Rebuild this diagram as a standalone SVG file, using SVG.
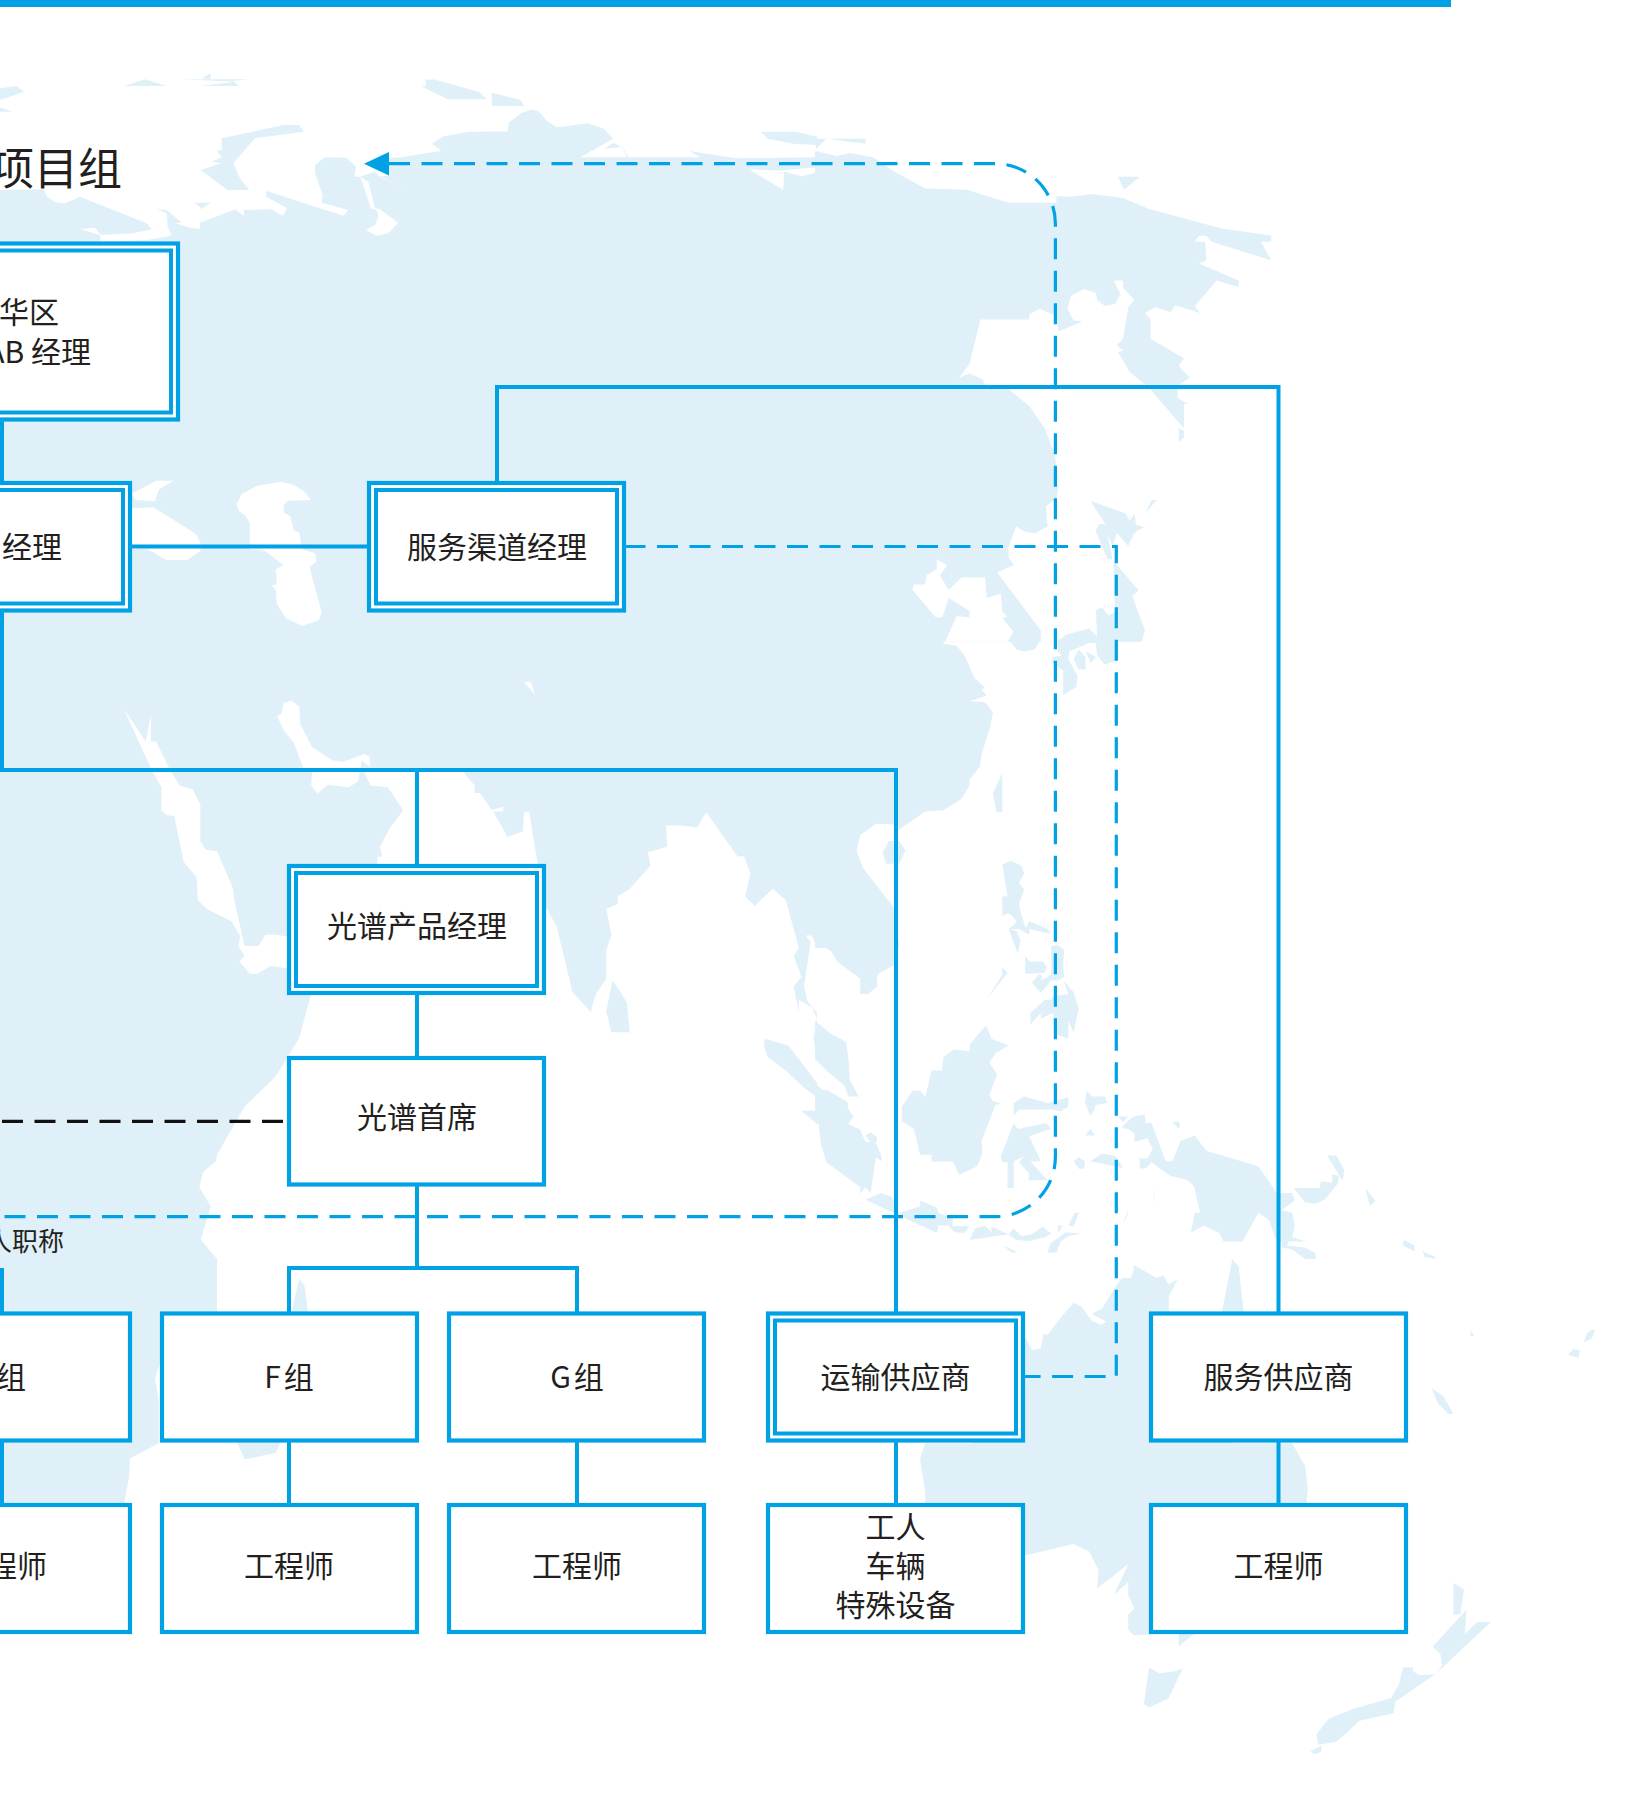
<svg xmlns="http://www.w3.org/2000/svg" width="1632" height="1796" viewBox="0 0 1632 1796">
<style>
.l{fill:#e0f0f9}
.w{fill:#fff}
.n{fill:#fff;stroke:#00a2e5;stroke-width:4.2}
.i{fill:none;stroke:#00a2e5;stroke-width:4}
.c{fill:none;stroke:#00a2e5;stroke-width:4}
.d{fill:none;stroke:#00a2e5;stroke-width:3.2;stroke-dasharray:21 11.5}
.k{fill:none;stroke:#111;stroke-width:3.2;stroke-dasharray:21 11.5}
text{font-family:"Noto Sans CJK SC","Noto Sans",sans-serif;font-size:30px;font-weight:400;fill:#231f20;text-anchor:middle}
.e{text-anchor:end}
.t{word-spacing:-4px}
</style>
<rect width="1632" height="1796" fill="#fff"/>
<g id="map">
<rect class="l" x="0" y="308" width="818" height="334"/>
<g transform="translate(0,70) scale(.33333)">
<polygon class="l" points="0,55 50,48 72,65 0,90"/>
<polygon class="l" points="0,112 38,125 0,125"/>
<polygon class="l" points="372,48 435,28 500,48"/>
<polygon class="l" points="605,25 632,10 632,28"/>
<polygon class="l" points="550,28 750,28 700,32 715,48 600,48 705,35"/>
<polygon class="l" points="665,205 850,165 897,165 912,185 765,205 700,280 720,325 748,360 682,360 602,300 665,280 635,275 665,262 650,243 665,240"/>
<polygon class="l" points="0,360 130,358 140,378 165,397 195,400 240,380 440,460 455,478 515,497 503,470 500,430 470,418 500,420 545,458 522,458 570,473 600,477 600,458 705,418 732,437 732,420 815,418 848,437 862,415 798,380 798,362 1030,437 1045,420 965,398 968,375 945,310 945,285 975,262 1040,263 1068,290 1063,320 1080,320 1125,305 1140,318 1165,318 1165,265 1209,261 1262,252 1262,722 0,722"/>
<polygon class="l" points="585,398 632,398 605,417"/>
<polygon class="w" points="240,477 285,473 303,495 400,490 455,478 515,497 440,510 303,515 300,495"/>
<polygon class="w" points="1080,320 1105,335 1125,415 1140,418 1195,458 1165,490 1130,497 1098,480 1125,465 1135,440 1130,420 1112,415 1090,345"/>
<polygon class="w" points="1120,307 1210,358 1140,320"/>
</g>
<g transform="scale(.5204,.40816)">
<polygon class="l" points="818,195 835,195 920,225 935,243 860,243 810,212 818,212"/>
<polygon class="l" points="945,227 1000,245 1007,260 945,260"/>
<polygon class="l" points="1462,323 1530,323 1570,335 1570,355 1525,352 1475,340"/>
<polygon class="l" points="805,378 848,370 830,352 850,335 900,323 975,322 978,300 1000,278 1020,268 1035,272 1050,295 1070,312 1130,302 1160,315 1178,340 1115,385 1205,385 1195,360 1160,365 1180,350 1198,365 1208,385 1345,385 1325,370 1415,388 1570,385 1570,762 805,762"/>
<polygon class="w" points="1440,415 1505,465 1507,420 1540,432 1570,422 1570,410 1500,418"/>
<polygon class="w" points="253,1210 300,1178 333,1178 305,1200 298,1228 260,1225"/>
<polygon class="w" points="253,1245 295,1243 360,1295 378,1310 385,1330 385,1350 360,1372 320,1372 283,1345 253,1345"/>
<polygon class="w" points="455,1235 465,1210 495,1190 540,1180 565,1188 585,1205 597,1225 553,1227 545,1238 545,1255 558,1265 565,1300 575,1305 580,1345 590,1350 605,1355 608,1375 595,1390 598,1405 618,1500 612,1520 580,1533 550,1515 532,1480 530,1445 522,1435 532,1430 530,1395 545,1385 510,1350 480,1345 480,1280 470,1262 458,1250"/>
</g>
<g transform="translate(816,0) scale(.5204,.40816)">
<polygon class="l" points="0,340 95,340 95,352 20,340 0,365"/>
<polygon class="l" points="580,433 622,433 592,465"/>
<polygon class="l" points="-2,370 0,370 40,382 65,375 110,385 150,420 210,462 290,465 370,497 462,497 462,480 490,482 530,475 590,485 640,512 780,560 875,577 875,592 855,592 875,638 760,592 750,578 735,578 728,592 748,592 750,638 735,645 812,687 812,703 770,687 728,750 738,767 690,748 682,765 652,752 632,767 643,782 643,830 707,878 697,897 718,925 695,945 695,975 715,990 707,990 707,1050 640,950 603,912 580,862 590,860 578,845 590,830 600,752 612,735 590,705 590,687 572,687 585,720 575,745 555,750 540,735 538,718 515,708 490,725 483,755 495,785 512,787 465,813 465,800 455,770 430,757 410,770 410,783 316,783 295,892 275,925 295,915 320,930 328,950 365,948 410,995 440,1050 460,1120 465,1200 462,1222 442,1240 445,1290 420,1307 400,1302 385,1290 370,1340 370,1365 380,1385 348,1402 432,1545 432,1572 -2,1572"/>
<polygon class="l" points="697,1050 707,1055 707,1072 697,1085"/>
<polygon class="l" points="527,1227 595,1258 603,1275 612,1258 615,1285 630,1292 612,1305 600,1338 578,1305 570,1338 560,1310 570,1370 560,1370 537,1300 545,1283 557,1285"/>
<polygon class="l" points="632,1258 645,1225 655,1225"/>
<polygon class="l" points="572,1375 620,1447 608,1460 632,1545 626,1572 465,1572 480,1555 525,1540 540,1558 538,1495 550,1488 562,1508 575,1498 572,1430"/>
<polygon class="w" points="232,1370 252,1385 238,1410 255,1445 280,1415 325,1415 328,1465 355,1455 358,1500 368,1510 358,1515 380,1548 368,1572 248,1572 270,1510 295,1512 295,1497 255,1465 243,1512 230,1512 185,1445 188,1432 210,1432 212,1410 232,1395"/>
</g>
<g transform="translate(0,640) scale(.5204,.38265)">
<polygon class="l" points="-2,-2 1570,-2 1570,805 1560,772 1548,772 1558,790 1555,815 1545,905 1552,945 1570,975 1570,990 1560,960 1535,940 1535,972 1525,905 1540,880 1525,825 1535,805 1517,715 1510,680 1485,650 1450,695 1432,670 1442,610 1430,565 1417,565 1357,450 1340,490 1310,485 1303,450 1310,485 1280,485 1282,540 1245,555 1250,590 1210,650 1187,670 1187,690 1165,703 1175,770 1165,810 1165,885 1145,925 1135,972 1100,920 1070,750 1050,700 1030,560 1017,450 1007,450 1005,500 975,515 948,448 967,448 967,435 945,445 922,400 912,400 912,380 890,345 712,345 700,345 712,380 745,385 775,445 750,490 730,540 735,565 725,568 725,590 590,870 597,930 575,1040 530,1140 470,1220 417,1345 415,1362 390,1390 383,1430 405,1480 385,1570 -2,1570"/>
<polygon class="l" points="1177,890 1195,925 1205,950 1210,1025 1175,1025 1165,970"/>
<polygon class="l" points="1470,1042 1515,1060 1570,1158 1570,1195 1545,1170 1510,1125 1475,1090 1468,1060"/>
<polygon class="l" points="1570,985 1563,1040 1570,1095"/>
<polygon class="l" points="1540,1230 1570,1265 1570,1230"/>
<polygon class="w" points="1007,110 1020,110 1028,143"/>
<polygon class="w" points="238,180 280,265 290,195 290,265 300,265 325,335 345,380 370,390 385,430 385,525 395,548 417,552 448,650 450,680 470,800 497,800 510,770 530,770 552,775 552,858 520,852 495,872 480,872 460,840 470,825 458,800 462,775 445,735 400,705 380,680 378,620 353,580 335,460 320,458 310,445 310,385 290,335"/>
<polygon class="w" points="532,197 540,195 545,165 560,158 575,175 577,220 600,280 640,315 660,318 700,298 710,305 712,332 695,315 688,370 670,385 630,378 610,402 598,380 600,342 583,335 565,270 545,235"/>
</g>
<g transform="translate(816,640) scale(.5204,.38265)">
<polygon class="l" points="-2,-2 245,-2 245,10 270,15 285,40 305,100 325,125 318,130 328,145 295,160 325,163 340,190 335,225 318,300 315,330 295,365 295,380 280,415 245,445 210,448 155,500 148,482 115,480 85,510 78,550 90,595 150,700 160,800 150,850 120,872 117,880 118,905 100,925 85,925 85,885 60,860 40,840 30,815 20,805 -2,805"/>
<polygon class="l" points="128,555 140,525 160,525 172,550 160,585 135,585"/>
<polygon class="l" points="370,-2 385,25 400,30 420,25 432,-2"/>
<polygon class="l" points="465,-2 465,28 472,40 455,45 453,60 475,80 475,145 500,122 503,95 485,50 487,30 525,8 538,8 540,40 555,65 575,55 580,-2"/>
<polygon class="l" points="495,50 505,25 518,45 518,77 505,77"/>
<polygon class="l" points="518,28 538,45 528,60"/>
<polygon class="l" points="340,400 358,348 358,450 347,450"/>
<polygon class="l" points="358,587 375,577 395,590 400,610 390,635 400,652 390,690 395,720 403,752 410,735 445,755 452,768 410,755 410,770 390,755 370,755 380,745 385,735 375,718 368,715 358,720 358,670 368,670"/>
<polygon class="l" points="370,755 385,760 393,785 388,820"/>
<polygon class="l" points="402,825 410,840 437,840 443,855 440,870 402,872"/>
<polygon class="l" points="415,895 430,872 435,880 432,890 452,875 452,800 465,797 477,810 475,850 477,880 465,890 452,890 432,922"/>
<polygon class="l" points="475,890 495,920 505,965 495,1025 485,995 485,1042 462,1030 455,975 432,990 432,975 412,1005 412,975 440,940 452,940 455,930 485,925"/>
<polygon class="l" points="358,855 368,870 330,935 358,875"/>
<polygon class="l" points="327,1007 337,1042 370,1060 345,1080 333,1105 348,1135 333,1190 340,1205 357,1212 345,1215 318,1310 320,1340 310,1375 275,1398 263,1363 222,1363 222,1345 200,1345 188,1278 165,1258 165,1220 185,1178 200,1178 210,1195 222,1125 242,1125 245,1090 265,1070 295,1075 295,1058"/>
<polygon class="l" points="-2,995 30,1030 58,1050 63,1100 65,1150 82,1193 62,1193 55,1165 20,1125 -2,1095"/>
<polygon class="l" points="-2,1160 15,1178 20,1175 60,1207 62,1225 72,1245 62,1265 85,1280 95,1312 105,1312 95,1295 105,1287 118,1300 115,1315 125,1345 127,1362 115,1352 105,1445 95,1430 85,1447 85,1430 20,1365 10,1320 5,1265 -2,1260"/>
<polygon class="l" points="380,1210 400,1193 445,1210 485,1195 485,1220 470,1232 455,1227 390,1227 380,1243"/>
<polygon class="l" points="380,1262 388,1278 442,1262 452,1277 410,1297 432,1362 412,1362 437,1400 445,1412 408,1412 410,1395 390,1365 400,1350 380,1362 380,1432 368,1432 368,1365 358,1365 355,1350"/>
<polygon class="l" points="520,1178 530,1193 555,1193 560,1210 537,1215 535,1228 527,1243 517,1210"/>
<polygon class="l" points="517,1295 527,1278 537,1295"/>
<polygon class="l" points="495,1362 505,1352 517,1362 515,1382 505,1382"/>
<polygon class="l" points="527,1362 550,1342 575,1348 590,1380"/>
<polygon class="l" points="580,1245 600,1245 590,1260"/>
<polygon class="l" points="595,1262 610,1245 632,1240 633,1262 645,1262 672,1362 685,1362 700,1310 728,1295 750,1335 800,1355 850,1375 868,1410 885,1445 915,1445 920,1465 895,1490 915,1497 920,1530 915,1560 940,1572 885,1572 870,1515 850,1497 820,1572 783,1572 775,1550 745,1530 720,1550 728,1497 738,1497 727,1430 715,1412 680,1400 645,1365 635,1380 622,1382 622,1355 612,1347 625,1355 637,1355 647,1330 637,1302 612,1312 612,1290 600,1278 588,1275"/>
<polygon class="l" points="982,1347 1000,1347 1015,1385 1012,1413"/>
<polygon class="l" points="918,1432 968,1432 970,1415 992,1418 992,1397 1005,1400 1003,1420 978,1462 960,1473 940,1470"/>
<polygon class="l" points="1055,1432 1075,1465 1065,1480"/>
<polygon class="l" points="685,1260 695,1258 700,1265 697,1278"/>
<polygon class="l" points="645,1480 653,1430 651,1450"/>
<polygon class="l" points="590,1530 600,1485 598,1505"/>
<polygon class="l" points="485,1530 497,1497 505,1497 495,1533"/>
<polygon class="l" points="465,1530 475,1530 465,1550"/>
<polygon class="l" points="95,1463 125,1445 145,1455 160,1498 200,1480 200,1465 232,1483 235,1497 263,1512 262,1532 295,1532 285,1550 265,1547 255,1530 235,1530 232,1550"/>
</g>
<g transform="translate(0,1200) scale(.5204,.3801)">
<polygon class="l" points="-2,-2 392,-2 405,15 385,103 417,155 417,295 307,295 307,430 298,470 305,525 305,640 250,680 248,730 238,800 -2,800"/>
<polygon class="l" points="560,295 575,207 585,225 592,295"/>
<polygon class="l" points="455,636 470,683 530,665 540,636"/>
</g>
<g transform="translate(816,1200) scale(.5204,.3801)">
<polygon class="l" points="295,105 305,75 325,68 337,85 337,70 370,90 295,105"/>
<polygon class="l" points="370,90 380,75 395,95 415,90 435,70 452,88 440,98 410,108 385,105"/>
<polygon class="l" points="360,120 388,138 375,138"/>
<polygon class="l" points="445,138 450,115 480,85 510,88 485,95 470,110 462,138"/>
<polygon class="l" points="888,25 915,35 918,80 905,120 940,125 960,140 960,155 940,155 915,130 895,125"/>
<polygon class="l" points="800,155 812,175 822,295 780,295"/>
<polygon class="l" points="612,172 655,205 668,198 677,222 695,208 678,255 678,296 800,296 800,640 915,640 940,700 945,760 942,805 700,805 700,1138 730,1138 697,1175 697,1140 610,1145 600,1130 600,1090 612,1075 600,1040 600,1005 572,1040 600,958 540,1022 543,975 525,925 495,905 402,935 300,935 300,800 210,800 210,770 200,680 210,640 300,640 300,400 405,365 415,395 432,390 437,352 445,355 470,310 495,270 510,280 530,318 548,328 558,320 530,300 550,285 577,225 585,210"/>
<polygon class="w" points="575,170 600,170 612,180 605,205 578,205"/>
<polygon class="l" points="1130,105 1150,120 1150,135 1128,120"/>
<polygon class="l" points="1165,135 1190,150 1192,155 1170,150"/>
<polygon class="l" points="1258,343 1265,358 1258,358"/>
<polygon class="l" points="1490,342 1497,342 1490,365 1475,375 1482,350"/>
<polygon class="l" points="1455,392 1468,395 1465,415 1445,408"/>
<polygon class="l" points="1183,495 1205,515 1225,563 1215,563 1195,535"/>
<polygon class="l" points="640,1230 660,1245 690,1240 705,1232 677,1312 640,1335 630,1325"/>
<polygon class="l" points="1225,1007 1245,1025 1238,1090 1225,1092"/>
<polygon class="l" points="1297,1110 1270,1110 1247,1142 1250,1078 1185,1175 1200,1195 1203,1225 1190,1248"/>
<polygon class="l" points="1190,1248 1160,1250 1147,1240 1147,1230 1128,1230 1120,1275 1105,1310 1030,1340 985,1365 962,1405 965,1433 1000,1425 1045,1370 1110,1350 1113,1320"/>
<polygon class="l" points="950,1450 972,1435 970,1452 958,1458"/>
</g>
</g>
<rect id="top-bar" x="0" y="0" width="1451" height="7" fill="#00a2e5"/>
<g id="connectors">
<path class="c" d="M2,421V481M2,612V770H896V1312M417,770V864M417,995V1056M417,1186V1268M289,1312V1268H577V1312M131,546.5H367M497,481V387H1278.5V1312M2,1268V1312M2,1442V1503M289,1442V1503M577,1442V1503M896,1442V1503M1278.5,1442V1503"/>
<path class="d" d="M389,163.7H995A60,60 0 0 1 1055.4,224V1157A60,60 0 0 1 995.4,1216.7H0"/>
<path class="d" stroke-dashoffset="1.5" d="M626,546.5H1116.3V1376.5H1025"/>
<path class="k" d="M283,1121.4H0"/>
<polygon points="364,163.7 389,152 389,175.5" fill="#00a2e5"/>
</g>
<g id="title"><text class="e" x="122" y="185" style="font-size:44px">项目组</text></g>
<g id="node-region"><rect class="n" x="-120" y="243.5" width="298" height="176"/><rect class="i" x="-120" y="250.5" width="291" height="162"/><text class="e" x="59" y="323">华区</text><text class="e" x="91" y="363">AB 经理</text></g>
<g id="node-manager"><rect class="n" x="-127" y="483" width="257" height="127.5"/><rect class="i" x="-127" y="490" width="250" height="113.5"/><text class="e" x="62" y="558">经理</text></g>
<g id="node-service-channel"><rect class="n" x="369" y="483" width="255" height="127.5"/><rect class="i" x="376" y="490" width="241" height="113.5"/><text x="497" y="558">服务渠道经理</text></g>
<g id="node-spectrum-pm"><rect class="n" x="289" y="866" width="255" height="127"/><rect class="i" x="296" y="873" width="241" height="113"/><text x="417" y="937">光谱产品经理</text></g>
<g id="node-spectrum-chief"><rect class="n" x="289" y="1058" width="255" height="126.5"/><text x="417" y="1128">光谱首席</text></g>
<g id="label-title"><text class="e" x="64" y="1251" style="font-size:26px">人职称</text></g>
<g id="node-e"><rect class="n" x="-127" y="1313.5" width="257" height="127"/><text class="e" x="26" y="1388">组</text></g>
<g id="node-f"><rect class="n" x="162" y="1313.5" width="255" height="127"/><text class="t" x="289" y="1388">F 组</text></g>
<g id="node-g"><rect class="n" x="449" y="1313.5" width="255" height="127"/><text class="t" x="577" y="1388">G 组</text></g>
<g id="node-transport"><rect class="n" x="768" y="1313.5" width="255" height="127"/><rect class="i" x="775" y="1320.5" width="241" height="113"/><text x="895.5" y="1388">运输供应商</text></g>
<g id="node-service"><rect class="n" x="1151" y="1313.5" width="255" height="127"/><text x="1278.5" y="1388">服务供应商</text></g>
<g id="node-eng-e"><rect class="n" x="-127" y="1505" width="257" height="127"/><text x="2" y="1577">工程师</text></g>
<g id="node-eng-f"><rect class="n" x="162" y="1505" width="255" height="127"/><text x="289" y="1577">工程师</text></g>
<g id="node-eng-g"><rect class="n" x="449" y="1505" width="255" height="127"/><text x="577" y="1577">工程师</text></g>
<g id="node-workers"><rect class="n" x="768" y="1505" width="255" height="127"/><text x="895.5" y="1538">工人</text><text x="895.5" y="1577">车辆</text><text x="895.5" y="1616">特殊设备</text></g>
<g id="node-eng-s"><rect class="n" x="1151" y="1505" width="255" height="127"/><text x="1278.5" y="1577">工程师</text></g>
</svg>
